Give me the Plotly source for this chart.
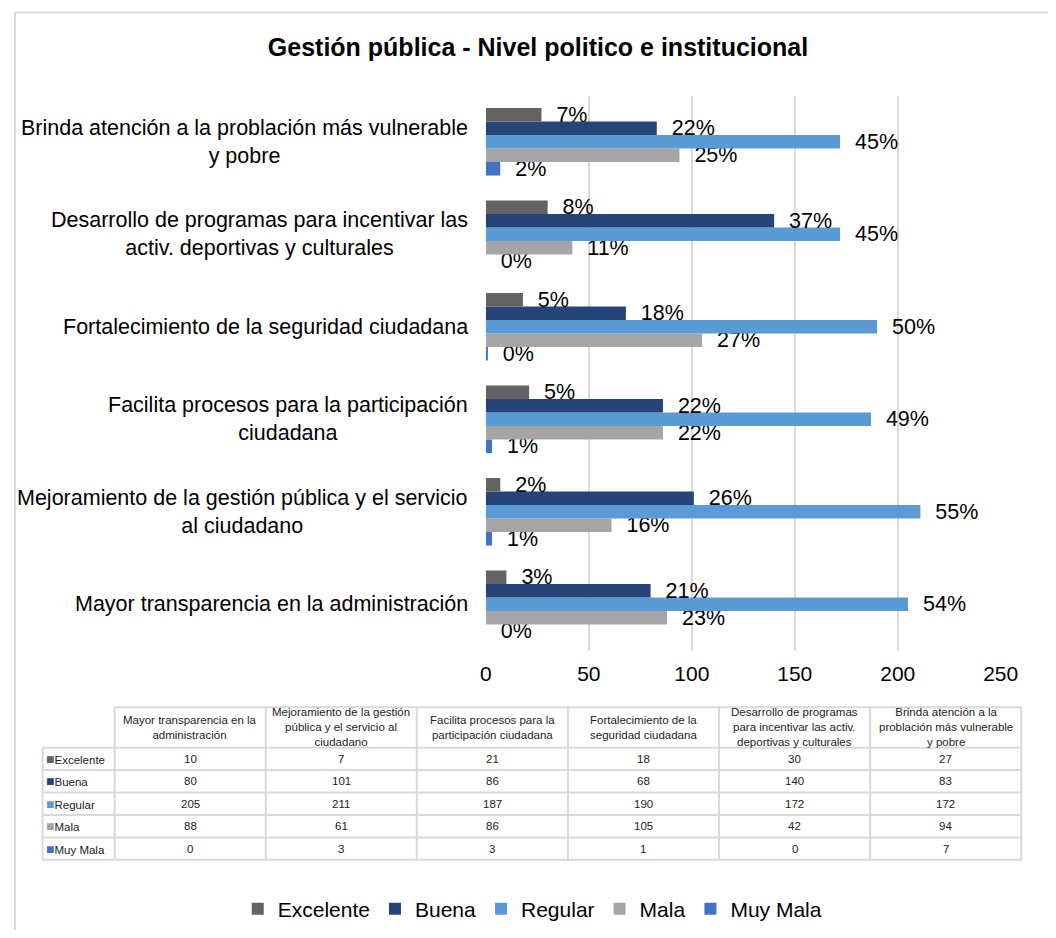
import plotly.graph_objects as go

categories = [
    "Mayor transparencia en la administración",
    "Mejoramiento de la gestión pública y el servicio al ciudadano",
    "Facilita procesos para la participación ciudadana",
    "Fortalecimiento de la seguridad ciudadana",
    "Desarrollo de programas para incentivar las activ. deportivas y culturales",
    "Brinda atención a la problación más vulnerable y pobre",
]
axis_labels = [
    "Mayor transparencia en la administración",
    "Mejoramiento de la gestión pública y el servicio<br>al ciudadano",
    "Facilita procesos para la participación<br>ciudadana",
    "Fortalecimiento de la seguridad ciudadana",
    "Desarrollo de programas para incentivar las<br>activ. deportivas y culturales",
    "Brinda atención a la problación más vulnerable<br>y pobre",
]
table_headers = [
    "Mayor transparencia en la<br>administración",
    "Mejoramiento de la gestión<br>pública y el servicio al<br>ciudadano",
    "Facilita procesos para la<br>participación ciudadana",
    "Fortalecimiento de la<br>seguridad ciudadana",
    "Desarrollo de programas<br>para incentivar las activ.<br>deportivas y culturales",
    "Brinda atención a la<br>problación más vulnerable<br>y pobre",
]

series_names = ["Excelente", "Buena", "Regular", "Mala", "Muy Mala"]
excelente = [10, 7, 21, 18, 30, 27]
buena = [80, 101, 86, 68, 140, 83]
regular = [205, 211, 187, 190, 172, 172]
mala = [88, 61, 86, 105, 42, 94]
muy_mala = [0, 3, 3, 1, 0, 7]

pct_excelente = [3, 2, 5, 5, 8, 7]
pct_buena = [21, 26, 22, 18, 37, 22]
pct_regular = [54, 55, 49, 50, 45, 45]
pct_mala = [23, 16, 22, 27, 11, 25]
pct_muy_mala = [0, 1, 1, 0, 0, 2]

colors = ["#636363", "#264478", "#5B9BD5", "#A5A5A5", "#4472C4"]

values = [excelente, buena, regular, mala, muy_mala]
pcts = [pct_excelente, pct_buena, pct_regular, pct_mala, pct_muy_mala]

FONT = "Liberation Sans, Arial, sans-serif"
GRID = "#d9d9d9"

W, H = 1040, 922
OFF = 8  # page offset of the figure in the window


def fx(px):
    return (px - OFF) / W


def fy(py):
    return 1 - (py - OFF) / H


fig = go.Figure()

# add in reverse so Excelente sits on top within each group
for i in reversed(range(5)):
    fig.add_trace(go.Bar(
        y=categories, x=values[i], orientation="h", name=series_names[i],
        marker=dict(color=colors[i], line=dict(width=0)),
        text=["\u00a0\u00a0" + f"{p}%" for p in pcts[i]],
        textposition="outside", constraintext="none", cliponaxis=False,
        textfont=dict(size=21.5, color="#000000", family=FONT),
        legendrank=i + 1,
    ))

annotations = []
shapes = []

# category labels (centered lines, right-anchored to the axis)
for cat, lab in zip(categories, axis_labels):
    annotations.append(dict(
        x=fx(491), xref="paper", y=cat, yref="y", xanchor="right", yanchor="middle",
        xshift=-16, text=lab, showarrow=False, align="center",
        font=dict(size=21.5, color="#000000", family=FONT),
    ))

# ---- data table built from the arrays ----
col_edges = [37.3, 111] + [111 + (1039 - 111) * k / 6 for k in range(1, 7)]
row_edges = [708, 748.5] + [748.5 + 22.45 * k for k in range(1, 6)]
TFONT = dict(size=11.5, color="#222222", family=FONT)

# horizontal lines
for k, ry in enumerate(row_edges):
    x_start = col_edges[1] if k == 0 else col_edges[0]
    shapes.append(dict(type="line", xref="paper", yref="paper",
                       x0=fx(x_start), x1=fx(col_edges[-1]), y0=fy(ry), y1=fy(ry),
                       line=dict(color=GRID, width=2)))
# vertical lines
for k, cx in enumerate(col_edges):
    y_start = row_edges[1] if k == 0 else row_edges[0]
    shapes.append(dict(type="line", xref="paper", yref="paper",
                       x0=fx(cx), x1=fx(cx), y0=fy(y_start), y1=fy(row_edges[-1]),
                       line=dict(color=GRID, width=2)))

# header texts
for c, htxt in enumerate(table_headers):
    xc = (col_edges[c + 1] + col_edges[c + 2]) / 2
    yc = (row_edges[0] + row_edges[1]) / 2
    annotations.append(dict(x=fx(xc), y=fy(yc), xref="paper", yref="paper",
                            xanchor="center", yanchor="middle", align="center",
                            text=htxt, showarrow=False, font=TFONT))
# row headers and values
for s in range(5):
    yc = (row_edges[s + 1] + row_edges[s + 2]) / 2
    annotations.append(dict(
        x=fx(col_edges[0] + 1), y=fy(yc), xref="paper", yref="paper",
        xanchor="left", yanchor="middle", align="left", showarrow=False,
        text=f'<span style="color:{colors[s]};font-size:14px">■</span>{series_names[s]}',
        font=TFONT))
    for c in range(6):
        xc = (col_edges[c + 1] + col_edges[c + 2]) / 2
        annotations.append(dict(x=fx(xc), y=fy(yc), xref="paper", yref="paper",
                                xanchor="center", yanchor="middle", showarrow=False,
                                text=str(values[s][c]), font=TFONT))

# outer chart border
shapes.append(dict(
    type="rect", xref="paper", yref="paper",
    x0=fx(9), x1=1.05, y0=-0.05, y1=fy(12.5),
    line=dict(color=GRID, width=2), fillcolor="rgba(0,0,0,0)", layer="below",
))

fig.update_layout(
    width=W, height=H,
    margin=dict(l=0, r=0, t=0, b=0),
    paper_bgcolor="white", plot_bgcolor="white",
    font=dict(family=FONT, color="#000000"),
    title=dict(
        text="<b>Gestión pública - Nivel politico e institucional</b>",
        x=fx(538), xanchor="center", y=fy(47), yanchor="middle",
        font=dict(size=25, color="#000000", family=FONT),
    ),
    barmode="group", bargap=0.27, bargroupgap=0,
    xaxis=dict(
        domain=[fx(491), fx(1018)], range=[0, 250], dtick=50,
        showgrid=True, gridcolor=GRID, gridwidth=1.5,
        zeroline=False, showline=False, ticks="",
        ticklabelstandoff=8,
        tickfont=dict(size=21, color="#000000", family=FONT),
    ),
    yaxis=dict(
        domain=[fy(651.3), fy(95.7)], showticklabels=False, showgrid=False,
        zeroline=False, showline=False, ticks="", type="category",
    ),
    showlegend=True,
    legend=dict(
        orientation="h", x=fx(539), xanchor="center", y=fy(910), yanchor="middle",
        font=dict(size=21, color="#000000", family=FONT),
        itemwidth=30, tracegroupgap=0,
    ),
    annotations=annotations,
    shapes=shapes,
)

fig.write_html("out.html")
